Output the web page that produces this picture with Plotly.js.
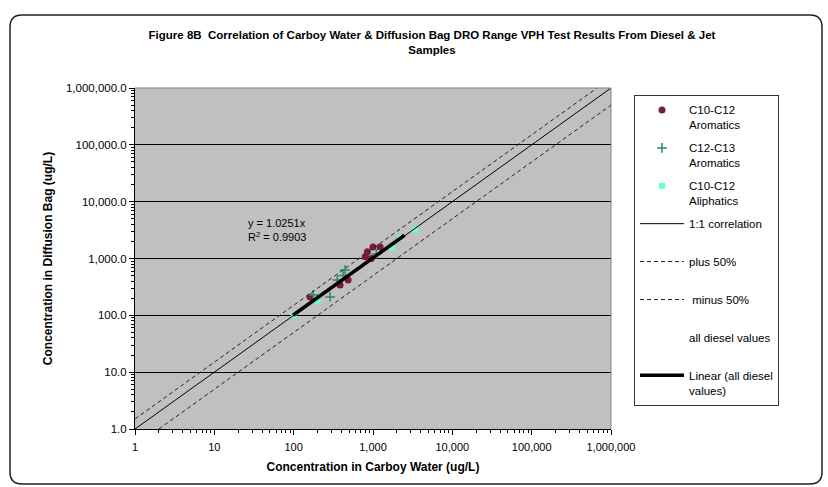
<!DOCTYPE html>
<html>
<head>
<meta charset="utf-8">
<script src="https://cdn.plot.ly/plotly-3.0.1.min.js"></script>
<style>html,body{margin:0;padding:0;background:#fff;}#chart{width:828px;height:487px;}</style>
</head>
<body>
<div id="chart"></div>
<script>
// ---- data ----
const aroC10X = [161, 385, 485, 800, 850, 1000, 1230, 950];
const aroC10Y = [211, 343, 418, 1070, 1310, 1600, 1600, 1000];

const aroC12X = [176, 288, 355, 420, 445, 1100];
const aroC12Y = [229, 211, 418, 500, 630, 1200];

const aliX = [100, 200, 1750, 2200, 3400];
const aliY = [100, 180, 1550, 2300, 3200];

const oneX = [1, 1000000];
const oneY = [1, 1000000];
const plusX = [1, 666667];
const plusY = [1.5, 1000000];
const minusX = [2, 1000000];
const minusY = [1, 500000];

const trendX = [98, 2500];
const trendY = [100.5, 2563];

const xTickVals = [1, 10, 100, 1000, 10000, 100000, 1000000];
const xTickText = ['1', '10', '100', '1,000', '10,000', '100,000', '1,000,000'];
const yTickVals = [1, 10, 100, 1000, 10000, 100000, 1000000];
const yTickText = ['1.0', '10.0', '100.0', '1,000.0', '10,000.0', '100,000.0', '1,000,000.0'];

const seriesNames = ['C10-C12<br>Aromatics', 'C12-C13<br>Aromatics', 'C10-C12<br>Aliphatics',
  '1:1 correlation<br>&nbsp;', 'plus 50%<br>&nbsp;', ' minus 50%<br>&nbsp;', 'all diesel values<br>&nbsp;',
  'Linear (all diesel<br>values)'];

// minor tick positions (2..9 within each decade)
const minorVals = [];
for (let d = 0; d < 6; d++) for (let k = 2; k <= 9; k++) minorVals.push(k * Math.pow(10, d));

// ---- chart ----
const FONT = 'Liberation Sans, Arial, sans-serif';
const allX = aroC10X.concat(aroC12X, aliX);
const allY = aroC10Y.concat(aroC12Y, aliY);

const traces = [
  {x: aroC10X, y: aroC10Y, name: seriesNames[0], mode: 'markers', legendgroup: 'a',
   marker: {symbol: 'circle', size: 7, color: '#7d1a3c'}},
  {x: aroC12X, y: aroC12Y, name: seriesNames[1], mode: 'markers', legendgroup: 'b',
   marker: {symbol: 'cross-thin', size: 7, line: {color: '#2a8a5c', width: 1.5}}},
  {x: aliX, y: aliY, name: seriesNames[2], mode: 'markers', legendgroup: 'c',
   marker: {symbol: 'square', size: 6, color: '#66ffd6'}},
  {x: oneX, y: oneY, name: seriesNames[3], mode: 'lines', legendgroup: 'd',
   line: {color: '#000', width: 1}},
  {x: plusX, y: plusY, name: seriesNames[4], mode: 'lines', legendgroup: 'e',
   line: {color: '#222', width: 1, dash: '4px,3px'}},
  {x: minusX, y: minusY, name: seriesNames[5], mode: 'lines', legendgroup: 'f',
   line: {color: '#222', width: 1, dash: '4px,3px'}},
  {x: allX, y: allY, name: seriesNames[6], mode: 'markers', legendgroup: 'g',
   marker: {size: 6, color: 'rgba(0,0,0,0)'}},
  {x: trendX, y: trendY, name: seriesNames[7], mode: 'lines', legendgroup: 'h',
   line: {color: '#000', width: 3.5}}
];

// pixel -> paper helpers for the outer chart frame
const L = 135, R = 611, T = 88, B = 429;
const px = v => (v - L) / (R - L);
const py = v => (B - v) / (B - T);
const fx0 = px(10), fx1 = px(822), fy0 = py(15), fy1 = py(484);
const rx = 12 / (R - L), ry = 12 / (B - T);
const framePath = `M ${fx0 + rx},${fy0} L ${fx1 - rx},${fy0} Q ${fx1},${fy0} ${fx1},${fy0 - ry} ` +
  `L ${fx1},${fy1 + ry} Q ${fx1},${fy1} ${fx1 - rx},${fy1} L ${fx0 + rx},${fy1} Q ${fx0},${fy1} ${fx0},${fy1 + ry} ` +
  `L ${fx0},${fy0 - ry} Q ${fx0},${fy0} ${fx0 + rx},${fy0} Z`;

const minorCfg = {tickmode: 'array', tickvals: minorVals, ticks: 'outside', ticklen: 3, tickwidth: 1, tickcolor: '#000', showgrid: false};

const layout = {
  width: 828, height: 487,
  margin: {l: L, r: 828 - R, t: T, b: 487 - B},
  paper_bgcolor: '#fff',
  plot_bgcolor: '#c0c0c0',
  font: {family: FONT, size: 10, color: '#000'},
  title: {
    text: '<b>Figure 8B  Correlation of Carboy Water &amp; Diffusion Bag DRO Range VPH Test Results From Diesel &amp; Jet<br>Samples</b>',
    font: {family: FONT, size: 11.5, color: '#000'},
    xref: 'container', x: 432 / 828, xanchor: 'center',
    yref: 'container', y: 1 - 39 / 487, yanchor: 'middle'
  },
  xaxis: {
    type: 'log', range: [0, 6],
    tickmode: 'array', tickvals: xTickVals, ticktext: xTickText,
    ticks: 'outside', ticklen: 5, tickwidth: 1, tickcolor: '#000', ticklabelstandoff: 3,
    minor: minorCfg,
    showgrid: false, zeroline: false,
    showline: true, linecolor: '#000', linewidth: 1,
    tickfont: {size: 11},
    title: {text: '<b>Concentration in Carboy Water (ug/L)</b>', font: {size: 12}, standoff: 10}
  },
  yaxis: {
    type: 'log', range: [0, 6],
    tickmode: 'array', tickvals: yTickVals, ticktext: yTickText,
    ticks: 'outside', ticklen: 5, tickwidth: 1, tickcolor: '#000',
    minor: minorCfg,
    showgrid: true, gridcolor: '#000', gridwidth: 1, zeroline: false,
    showline: true, linecolor: '#000', linewidth: 1,
    tickfont: {size: 11.5},
    title: {text: '<b>Concentration in Diffusion Bag (ug/L)</b>', font: {size: 12}, standoff: 10}
  },
  showlegend: true,
  legend: {
    x: px(634), y: py(95), xanchor: 'left', yanchor: 'top',
    bgcolor: '#fff', bordercolor: '#333', borderwidth: 1,
    font: {family: FONT, size: 11.5, color: '#000'},
    traceorder: 'grouped', tracegroupgap: 5, valign: 'top', itemwidth: 44
  },
  annotations: [{
    xref: 'paper', yref: 'paper', x: px(246), y: py(230), xanchor: 'left', yanchor: 'middle',
    text: 'y = 1.0251x<br>R<sup>2</sup> = 0.9903', showarrow: false, align: 'left',
    font: {family: FONT, size: 11, color: '#000'}
  }],
  shapes: [
    {type: 'path', xref: 'x domain', yref: 'y domain', path: 'M 0,1 L 1,1 L 1,0',
     line: {color: '#808080', width: 1}, layer: 'above'},
    {type: 'path', xref: 'paper', yref: 'paper', path: framePath,
     line: {color: '#222', width: 1.5}, fillcolor: 'rgba(0,0,0,0)'}
  ]
};

Plotly.newPlot('chart', traces, layout, {displayModeBar: false, staticPlot: true});
</script>
</body>
</html>
